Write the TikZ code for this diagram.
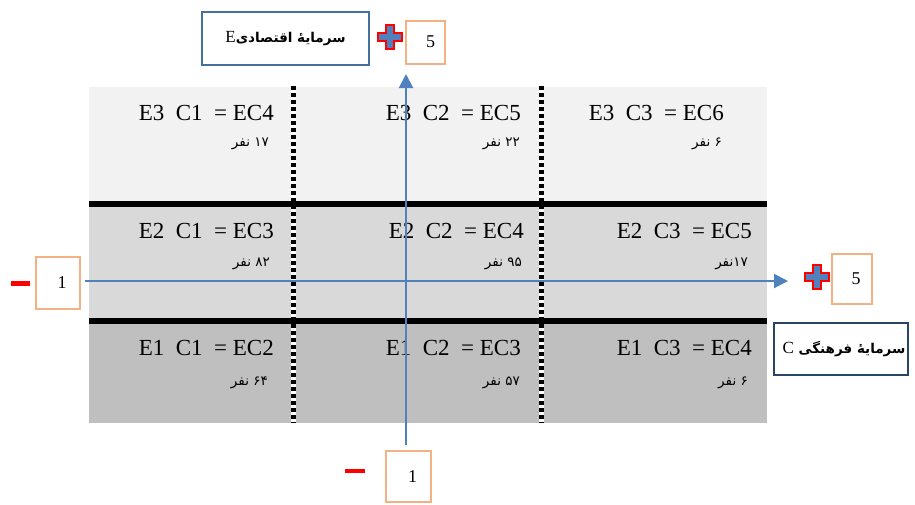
\documentclass[tikz,border=0pt]{standalone}
\usepackage{fontspec}
\setmainfont{Liberation Serif}
\newfontfamily\farsi[Script=Arabic]{DejaVu Sans}
\TeXXeTstate=1
\usetikzlibrary{arrows.meta}

\definecolor{rowhigh}{HTML}{F2F2F2}
\definecolor{rowmid}{HTML}{D9D9D9}
\definecolor{rowlow}{HTML}{BFBFBF}
\definecolor{axisblue}{HTML}{4F81BD}
\definecolor{boxorange}{HTML}{F4B183}
\definecolor{steel}{HTML}{41719C}
\definecolor{navy}{HTML}{2A4466}

\tikzset{
  cell/.style={anchor=base east, inner sep=0pt, font=\fontsize{23}{26}\selectfont},
  count/.style={anchor=base east, inner sep=0pt, font=\farsi\fontsize{13.5}{15}\selectfont},
  numbox/.style={draw=boxorange, line width=2pt, inner sep=0pt, font=\fontsize{18}{20}\selectfont},
  namebox/.style={line width=2pt, inner sep=0pt, font=\farsi\bfseries\fontsize{13.5}{15}\selectfont},
  axis/.style={draw=axisblue, line width=2pt, -{Triangle[length=14pt,width=14pt]}},
  rowline/.style={line width=6pt},
  colline/.style={line width=5pt, dash pattern=on 4pt off 3pt},
  plusmark/.style={draw=red, line width=2pt, fill=axisblue},
}

% plus sign drawn round a centre
\newcommand{\plusat}[1]{%
  \draw[plusmark, shift={#1}] (-12,-4) -- (-4,-4) -- (-4,-12) -- (4,-12) -- (4,-4) -- (12,-4)
    -- (12,4) -- (4,4) -- (4,12) -- (-4,12) -- (-4,4) -- (-12,4) -- cycle;}

\begin{document}
\begin{tikzpicture}[x=1pt,y=-1pt]
    \useasboundingbox (0,0) rectangle (915,504);

    % three bands
    \fill[rowhigh] (89,87) rectangle (767,204);
    \fill[rowmid] (89,204) rectangle (767,321);
    \fill[rowlow] (89,321) rectangle (767,423);

    % column borders
    \draw[white, line width=5pt] (293.5,87) -- (293.5,423);
    \draw[colline] (293.5,86) -- (293.5,423);
    \draw[white, line width=5pt] (541,87) -- (541,423);
    \draw[colline] (541,86) -- (541,423);

    % row borders
    \draw[rowline] (89,204) -- (767,204);
    \draw[rowline] (89,321) -- (767,321);

    % cells
    \node[cell] (e3c1) at (274,120) {E3~~C1~~= EC4};
    \node[count] (n31) at (269,146) {\beginR ۱۷ نفر\endR};
    \node[cell] (e3c2) at (521,120) {E3~~C2~~= EC5};
    \node[count] (n32) at (520,146) {\beginR ۲۲ نفر\endR};
    \node[cell] (e3c3) at (724,120) {E3~~C3~~= EC6};
    \node[count] (n33) at (722,146) {\beginR ۶ نفر\endR};

    \node[cell] (e2c1) at (274,238) {E2~~C1~~= EC3};
    \node[count] (n21) at (270,266) {\beginR ۸۲ نفر\endR};
    \node[cell] (e2c2) at (524,238) {E2~~C2~~= EC4};
    \node[count] (n22) at (522,266) {\beginR ۹۵ نفر\endR};
    \node[cell] (e2c3) at (752,238) {E2~~C3~~= EC5};
    \node[count] (n23) at (748,266) {\beginR ۱۷نفر\endR};

    \node[cell] (e1c1) at (274,355) {E1~~C1~~= EC2};
    \node[count] (n11) at (268,385) {\beginR ۶۴ نفر\endR};
    \node[cell] (e1c2) at (521,355) {E1~~C2~~= EC3};
    \node[count] (n12) at (520,385) {\beginR ۵۷ نفر\endR};
    \node[cell] (e1c3) at (752,355) {E1~~C3~~= EC4};
    \node[count] (n13) at (748,385) {\beginR ۶ نفر\endR};

    % axis names
    \node[namebox, draw=steel, minimum width=167, minimum height=53] (econ) at (285.5,38.5)
        {\beginR سرمایهٔ اقتصادی{\rmfamily\mdseries\fontsize{17}{19}\selectfont E}\endR};
    \node[namebox, draw=navy, minimum width=134, minimum height=52] (cult) at (841,349)
        {\hspace*{6pt}\beginR سرمایهٔ فرهنگی {\rmfamily\mdseries\fontsize{17}{19}\selectfont C}\endR};

    % scale ends
    \node[numbox, minimum width=39, minimum height=43] (etop) at (425.5,42) {\hspace*{10pt}5};
    \node[numbox, minimum width=44, minimum height=52] (clow) at (58,283) {\hspace*{8pt}1};
    \node[numbox, minimum width=40, minimum height=50] (chigh) at (852,279) {\hspace*{8pt}5};
    \node[numbox, minimum width=45, minimum height=51] (elow) at (408.5,476.5) {\hspace*{8pt}1};

    \plusat{(390,37)}
    \plusat{(817,277)}
    \draw[draw=red, line width=2.5pt, fill=axisblue] (12,282.5) rectangle (29,284.5);
    \draw[draw=red, line width=2.5pt, fill=axisblue] (346,470) rectangle (364,472);

    % axes
    \coordinate (hfrom) at (85,281);
    \coordinate (hto) at (788,281);
    \coordinate (vfrom) at (406,445);
    \coordinate (vto) at (406,74);
    \draw[axis] (hfrom) -- (hto);
    \draw[axis] (vfrom) -- (vto);
\end{tikzpicture}
\end{document}
